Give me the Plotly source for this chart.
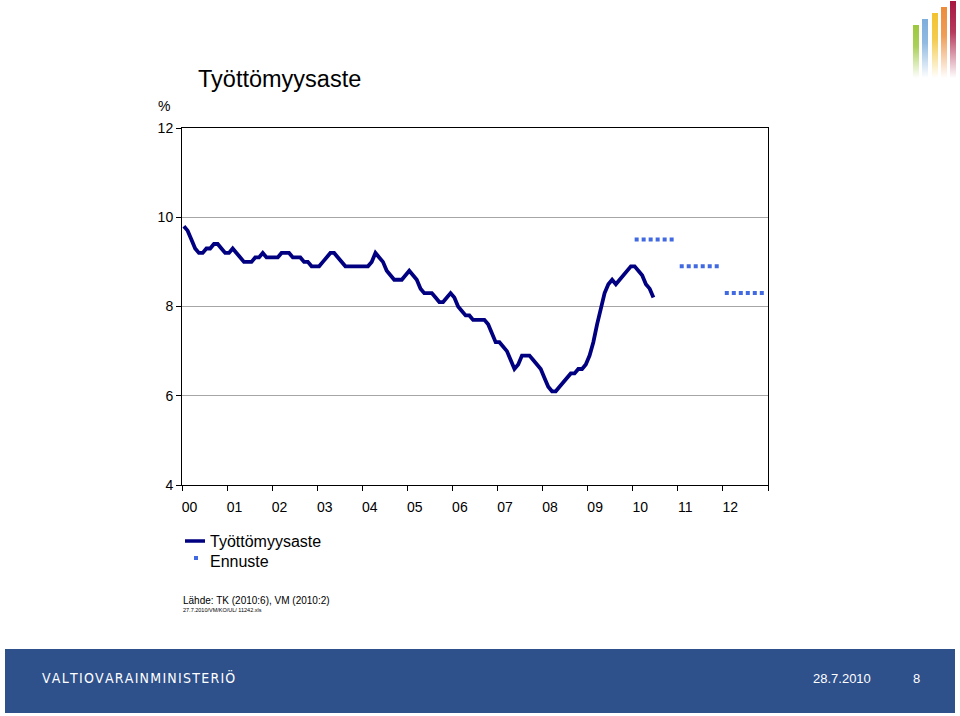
import base64
import plotly.graph_objects as go

# ---------------- data ----------------
year_labels = ["00", "01", "02", "03", "04", "05", "06", "07", "08", "09", "10", "11", "12"]

u2000 = [9.8, 9.7, 9.5, 9.3, 9.2, 9.2, 9.3, 9.3, 9.4, 9.4, 9.3, 9.2]
u2001 = [9.2, 9.3, 9.2, 9.1, 9.0, 9.0, 9.0, 9.1, 9.1, 9.2, 9.1, 9.1]
u2002 = [9.1, 9.1, 9.2, 9.2, 9.2, 9.1, 9.1, 9.1, 9.0, 9.0, 8.9, 8.9]
u2003 = [8.9, 9.0, 9.1, 9.2, 9.2, 9.1, 9.0, 8.9, 8.9, 8.9, 8.9, 8.9]
u2004 = [8.9, 8.9, 9.0, 9.2, 9.1, 9.0, 8.8, 8.7, 8.6, 8.6, 8.6, 8.7]
u2005 = [8.8, 8.7, 8.6, 8.4, 8.3, 8.3, 8.3, 8.2, 8.1, 8.1, 8.2, 8.3]
u2006 = [8.2, 8.0, 7.9, 7.8, 7.8, 7.7, 7.7, 7.7, 7.7, 7.6, 7.4, 7.2]
u2007 = [7.2, 7.1, 7.0, 6.8, 6.6, 6.7, 6.9, 6.9, 6.9, 6.8, 6.7, 6.6]
u2008 = [6.4, 6.2, 6.1, 6.1, 6.2, 6.3, 6.4, 6.5, 6.5, 6.6, 6.6, 6.7]
u2009 = [6.9, 7.2, 7.6, 8.0, 8.3, 8.5, 8.6, 8.5, 8.6, 8.7, 8.8, 8.9]
u2010 = [8.9, 8.8, 8.7, 8.5, 8.4, 8.2]

unemployment = u2000 + u2001 + u2002 + u2003 + u2004 + u2005 + u2006 + u2007 + u2008 + u2009 + u2010

forecast_years = [10, 11, 12]        # 2010, 2011, 2012 (years since 2000)
forecast_values = [9.5, 8.9, 8.3]

# ---------------- layout geometry (pixels) ----------------
W, H = 960, 716
L, R, T, B = 182, 768, 128, 485
FONT = "Liberation Sans, Arial, sans-serif"
NAVY = "#000080"
BLUE = "#4169E1"


def px(x):
    return (x - L) / (R - L)


def py(y):
    return (B - y) / (B - T)


# monthly positions (in years) for the actual series
x_months = [(i + 0.5) / 12 for i in range(len(unemployment))]

# forecast: one horizontal dotted segment per year (Jan..Dec)
fx, fy = [], []
for yr, v in zip(forecast_years, forecast_values):
    fx += [yr + 0.5 / 12, yr + 11.5 / 12, None]
    fy += [v, v, None]

fig = go.Figure()
fig.add_trace(go.Scatter(x=x_months, y=unemployment, mode="lines", name="Työttömyysaste",
                         line=dict(color=NAVY, width=3.8), hoverinfo="skip"))
fig.add_trace(go.Scatter(x=fx, y=fy, mode="lines", name="Ennuste",
                         line=dict(color=BLUE, width=4, dash="4px,3px"), hoverinfo="skip",
                         connectgaps=False))

# ---------------- logo (decorative) ----------------
bars = [(3, 25, "#9CC83C"), (12, 19, "#7EAEDC"), (22, 13, "#F2C230"), (31, 7, "#EC8C3A"), (40, 1, "#A8173F")]
defs, rects = [], []
for k, (bx, by, col) in enumerate(bars):
    defs.append(
        f"<linearGradient id='g{k}' x1='0' y1='0' x2='0' y2='1'>"
        f"<stop offset='0' stop-color='{col}' stop-opacity='1'/>"
        f"<stop offset='0.4' stop-color='{col}' stop-opacity='0.85'/>"
        f"<stop offset='1' stop-color='{col}' stop-opacity='0'/></linearGradient>")
    rects.append(f"<rect x='{bx}' y='{by}' width='6' height='{78 - by}' fill='url(#g{k})'/>")
svg = ("<svg xmlns='http://www.w3.org/2000/svg' width='50' height='80' viewBox='0 0 50 80'>"
       "<defs>" + "".join(defs) + "</defs>" + "".join(rects) + "</svg>")
logo_src = "data:image/svg+xml;base64," + base64.b64encode(svg.encode()).decode()

shapes = [
    # footer band
    dict(type="rect", xref="paper", yref="paper", x0=px(5), x1=px(955), y0=py(713), y1=py(649),
         fillcolor="#2E508B", line=dict(width=0), layer="below"),
    # legend symbols
    dict(type="line", xref="paper", yref="paper", x0=px(185), x1=px(205), y0=py(541), y1=py(541),
         line=dict(color=NAVY, width=3.5)),
    dict(type="rect", xref="paper", yref="paper", x0=px(194), x1=px(198), y0=py(560), y1=py(556),
         fillcolor=BLUE, line=dict(width=0)),
]


def ann(text, x, y, size, xanchor="left", color="black", family=FONT):
    return dict(text=text, x=px(x), y=py(y), xref="paper", yref="paper", xanchor=xanchor,
                yanchor="middle", showarrow=False, font=dict(size=size, color=color, family=family))


spaced = "\u200a".join(list("VALTIOVARAINMINISTERIÖ"))
annotations = [
    ann("Työttömyysaste", 196, 79, 23.5),
    ann("%", 172, 106, 14, xanchor="right"),
    ann("Työttömyysaste", 208, 541, 16),
    ann("Ennuste", 208, 561, 16),
    ann("Lähde: TK (2010:6), VM (2010:2)", 181, 600, 10),
    ann("27.7.2010/VM/KO/UL/ 11242.xls", 181, 610, 5.5),
    ann(spaced, 40, 677, 14, color="white", family="DejaVu Sans Condensed, Liberation Sans Narrow, sans-serif"),
    ann("28.7.2010", 842, 678, 13, xanchor="center", color="white"),
    ann("8", 917, 678, 13, xanchor="center", color="white"),
]

fig.update_layout(
    width=W, height=H,
    margin=dict(l=L, r=W - R, t=T, b=H - B, pad=0),
    paper_bgcolor="white", plot_bgcolor="white",
    showlegend=False,
    font=dict(family=FONT, size=14, color="black"),
    xaxis=dict(range=[0, 13], showgrid=False, zeroline=False, showline=True, linecolor="black",
               linewidth=1, mirror=True,
               tickmode="array", tickvals=[i + 0.165 for i in range(13)], ticktext=year_labels,
               ticks="outside", ticklen=9, tickcolor="rgba(0,0,0,0)",
               tickfont=dict(size=14, family=FONT, color="black"),
               minor=dict(tickmode="array", tickvals=list(range(14)), ticks="outside", ticklen=5,
                          tickcolor="black", tickwidth=1, showgrid=False),
               fixedrange=True),
    yaxis=dict(range=[4, 12], tickmode="array", tickvals=[4, 6, 8, 10, 12],
               ticktext=["4", "6", "8", "10", "12"],
               showgrid=True, gridcolor="#A6A6A6", gridwidth=1, zeroline=False,
               showline=True, linecolor="black", linewidth=1, mirror=True,
               ticks="outside", ticklen=5, tickcolor="black",
               tickfont=dict(size=14, family=FONT, color="black"), fixedrange=True),
    shapes=shapes,
    annotations=annotations,
    images=[dict(source=logo_src, xref="paper", yref="paper", x=px(910), y=py(0),
                 sizex=50 / (R - L), sizey=80 / (B - T), xanchor="left", yanchor="top",
                 sizing="stretch", layer="above")],
)

fig.write_html("out.html", config={"displayModeBar": False})
